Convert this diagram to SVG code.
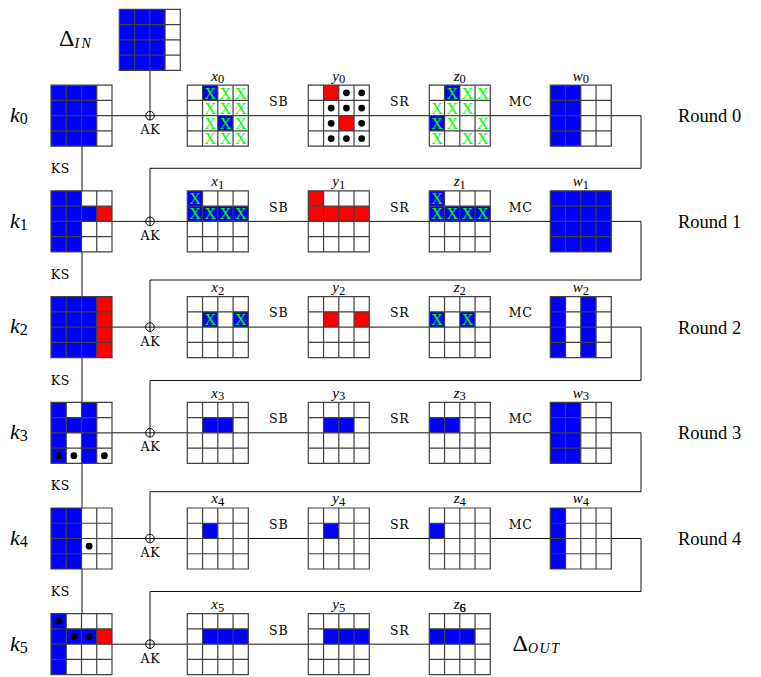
<svg xmlns="http://www.w3.org/2000/svg" width="761" height="677" viewBox="0 0 761 677">
<style>
.ln{fill:none;stroke:#111;stroke-width:1}
.gl{fill:none;stroke:#404040;stroke-width:1.2}
.bg{fill:#fff}
.b{fill:#0000ff}
.r{fill:#ff0000}
.d{fill:#000}
.xx{font-family:"Liberation Serif",serif;font-size:16px;fill:#00ff00;text-anchor:middle}
.t{font-family:"Liberation Serif",serif;fill:#000}
.op{font-family:"DejaVu Serif",serif;font-size:12.5px;text-anchor:middle;letter-spacing:0.8px;fill:#000}
.nl{font-family:"Liberation Serif",serif;font-size:15px;text-anchor:middle;fill:#000}
.it{font-style:italic}
.ox{fill:none;stroke:#000;stroke-width:1}
</style>
<defs>
<path id="gl" class="gl" d="M0,0H61V61H0Z M15.25,0V61 M30.5,0V61 M45.75,0V61 M0,15.25H61 M0,30.5H61 M0,45.75H61"/>
<rect id="bg" class="bg" width="61" height="61"/>
<rect id="B" class="b" width="15.25" height="15.25"/>
<rect id="R" class="r" width="15.25" height="15.25"/>
</defs>

<g id="connectors">
<path class="ln" d="M150,70.3V111.4"/>
<path class="ln" d="M82,146.2V613.7"/>
<path class="ln" d="M112,115.7H641V168.3H150V217.1"/>
<path class="ln" d="M112,221.4H641V280H150V322.8"/>
<path class="ln" d="M112,327.1H641V380.5H150V428.5"/>
<path class="ln" d="M112,432.8H641V491.7H150V534.2"/>
<path class="ln" d="M112,538.5H641V591.5H150V639.9"/>
<path class="ln" d="M112,644.2H429.3"/>
</g>

<g id="ops">
<g id="ak0"><circle class="ox" cx="150" cy="115.7" r="4.3"/><path class="ox" d="M150,111.4V120"/><text class="op" x="150.4" y="134.3">AK</text></g>
<g id="ak1"><circle class="ox" cx="150" cy="221.4" r="4.3"/><path class="ox" d="M150,217.1V225.7"/><text class="op" x="150.4" y="240">AK</text></g>
<g id="ak2"><circle class="ox" cx="150" cy="327.1" r="4.3"/><path class="ox" d="M150,322.8V331.4"/><text class="op" x="150.4" y="345.7">AK</text></g>
<g id="ak3"><circle class="ox" cx="150" cy="432.8" r="4.3"/><path class="ox" d="M150,428.5V437.1"/><text class="op" x="150.4" y="451.4">AK</text></g>
<g id="ak4"><circle class="ox" cx="150" cy="538.5" r="4.3"/><path class="ox" d="M150,534.2V542.8"/><text class="op" x="150.4" y="557.1">AK</text></g>
<g id="ak5"><circle class="ox" cx="150" cy="644.2" r="4.3"/><path class="ox" d="M150,639.9V648.5"/><text class="op" x="150.4" y="662.8">AK</text></g>
</g>

<g id="oplabels">
<text class="op" x="278.7" y="106">SB</text><text class="op" x="399.7" y="106">SR</text><text class="op" x="520.7" y="106">MC</text>
<text class="op" x="278.7" y="211.7">SB</text><text class="op" x="399.7" y="211.7">SR</text><text class="op" x="520.7" y="211.7">MC</text>
<text class="op" x="278.7" y="317.4">SB</text><text class="op" x="399.7" y="317.4">SR</text><text class="op" x="520.7" y="317.4">MC</text>
<text class="op" x="278.7" y="423.1">SB</text><text class="op" x="399.7" y="423.1">SR</text><text class="op" x="520.7" y="423.1">MC</text>
<text class="op" x="278.7" y="528.8">SB</text><text class="op" x="399.7" y="528.8">SR</text><text class="op" x="520.7" y="528.8">MC</text>
<text class="op" x="278.7" y="634.5">SB</text><text class="op" x="399.7" y="634.5">SR</text>
<text class="op" x="60.4" y="173.3">KS</text>
<text class="op" x="60.4" y="279">KS</text>
<text class="op" x="60.4" y="384.7">KS</text>
<text class="op" x="60.4" y="490.4">KS</text>
<text class="op" x="60.4" y="596.1">KS</text>
<text class="t" x="678" y="122.3" font-size="18.5">Round 0</text>
<text class="t" x="678" y="228" font-size="18.5">Round 1</text>
<text class="t" x="678" y="333.7" font-size="18.5">Round 2</text>
<text class="t" x="678" y="439.4" font-size="18.5">Round 3</text>
<text class="t" x="678" y="545.1" font-size="18.5">Round 4</text>
</g>

<!-- Delta IN -->
<g id="din">
<text class="t" x="59" y="46" font-size="24">Δ<tspan class="it" font-size="14" dy="1.6" letter-spacing="2.5">IN</tspan></text>
<g transform="translate(119.3,9.3)"><use href="#bg"/><rect class="b" width="45.75" height="61"/><use href="#gl"/></g>
</g>

<!-- Row 0 -->
<g id="k0">
<text class="t it" x="10" y="122" font-size="22">k<tspan font-style="normal" font-size="16" dy="2">0</tspan></text>
<g transform="translate(51,85.2)"><use href="#bg"/><rect class="b" width="45.75" height="61"/><use href="#gl"/></g>
</g>
<g id="x0">
<text class="nl" x="217.8" y="80.5"><tspan class="it">x</tspan><tspan font-size="12.5" dy="2.8">0</tspan></text>
<g transform="translate(187.3,85.2)"><use href="#bg"/>
<use href="#B" x="15.25" y="0"/><use href="#B" x="30.5" y="30.5"/>
<text class="xx" x="22.875" y="13.3">X</text><text class="xx" x="38.125" y="13.3">X</text><text class="xx" x="53.375" y="13.3">X</text>
<text class="xx" x="22.875" y="28.55">X</text><text class="xx" x="38.125" y="28.55">X</text><text class="xx" x="53.375" y="28.55">X</text>
<text class="xx" x="22.875" y="43.8">X</text><text class="xx" x="38.125" y="43.8">X</text><text class="xx" x="53.375" y="43.8">X</text>
<text class="xx" x="22.875" y="59.05">X</text><text class="xx" x="38.125" y="59.05">X</text><text class="xx" x="53.375" y="59.05">X</text>
<use href="#gl"/></g>
</g>
<g id="y0">
<text class="nl" x="338.8" y="80.5"><tspan class="it">y</tspan><tspan font-size="12.5" dy="2.8">0</tspan></text>
<g transform="translate(308.3,85.2)"><use href="#bg"/>
<use href="#R" x="15.25" y="0"/><use href="#R" x="30.5" y="30.5"/>
<circle class="d" cx="38.125" cy="7.625" r="3.4"/><circle class="d" cx="53.375" cy="7.625" r="3.4"/>
<circle class="d" cx="22.875" cy="22.875" r="3.4"/><circle class="d" cx="38.125" cy="22.875" r="3.4"/><circle class="d" cx="53.375" cy="22.875" r="3.4"/>
<circle class="d" cx="22.875" cy="38.125" r="3.4"/><circle class="d" cx="53.375" cy="38.125" r="3.4"/>
<circle class="d" cx="22.875" cy="53.375" r="3.4"/><circle class="d" cx="38.125" cy="53.375" r="3.4"/><circle class="d" cx="53.375" cy="53.375" r="3.4"/>
<use href="#gl"/></g>
</g>
<g id="z0">
<text class="nl" x="459.8" y="80.5"><tspan class="it">z</tspan><tspan font-size="12.5" dy="2.8">0</tspan></text>
<g transform="translate(429.3,85.2)"><use href="#bg"/>
<use href="#B" x="15.25" y="0"/><use href="#B" x="0" y="30.5"/>
<text class="xx" x="22.875" y="13.3">X</text><text class="xx" x="38.125" y="13.3">X</text><text class="xx" x="53.375" y="13.3">X</text>
<text class="xx" x="7.625" y="28.55">X</text><text class="xx" x="22.875" y="28.55">X</text><text class="xx" x="38.125" y="28.55">X</text>
<text class="xx" x="7.625" y="43.8">X</text><text class="xx" x="22.875" y="43.8">X</text><text class="xx" x="53.375" y="43.8">X</text>
<text class="xx" x="7.625" y="59.05">X</text><text class="xx" x="38.125" y="59.05">X</text><text class="xx" x="53.375" y="59.05">X</text>
<use href="#gl"/></g>
</g>
<g id="w0">
<text class="nl" x="580.8" y="80.5"><tspan class="it">w</tspan><tspan font-size="12.5" dy="2.8">0</tspan></text>
<g transform="translate(550.3,85.2)"><use href="#bg"/><rect class="b" width="30.5" height="61"/><use href="#gl"/></g>
</g>

<!-- Row 1 -->
<g id="k1">
<text class="t it" x="10" y="227.7" font-size="22">k<tspan font-style="normal" font-size="16" dy="2">1</tspan></text>
<g transform="translate(51,190.9)"><use href="#bg"/><rect class="b" width="30.5" height="61"/><use href="#B" x="30.5" y="15.25"/><use href="#R" x="45.75" y="15.25"/><use href="#gl"/></g>
</g>
<g id="x1">
<text class="nl" x="217.8" y="186.2"><tspan class="it">x</tspan><tspan font-size="12.5" dy="2.8">1</tspan></text>
<g transform="translate(187.3,190.9)"><use href="#bg"/>
<use href="#B" x="0" y="0"/><rect class="b" x="0" y="15.25" width="61" height="15.25"/>
<text class="xx" x="7.625" y="13.3">X</text>
<text class="xx" x="7.625" y="28.55">X</text><text class="xx" x="22.875" y="28.55">X</text><text class="xx" x="38.125" y="28.55">X</text><text class="xx" x="53.375" y="28.55">X</text>
<use href="#gl"/></g>
</g>
<g id="y1">
<text class="nl" x="338.8" y="186.2"><tspan class="it">y</tspan><tspan font-size="12.5" dy="2.8">1</tspan></text>
<g transform="translate(308.3,190.9)"><use href="#bg"/>
<use href="#R" x="0" y="0"/><rect class="r" x="0" y="15.25" width="61" height="15.25"/>
<use href="#gl"/></g>
</g>
<g id="z1">
<text class="nl" x="459.8" y="186.2"><tspan class="it">z</tspan><tspan font-size="12.5" dy="2.8">1</tspan></text>
<g transform="translate(429.3,190.9)"><use href="#bg"/>
<use href="#B" x="0" y="0"/><rect class="b" x="0" y="15.25" width="61" height="15.25"/>
<text class="xx" x="7.625" y="13.3">X</text>
<text class="xx" x="7.625" y="28.55">X</text><text class="xx" x="22.875" y="28.55">X</text><text class="xx" x="38.125" y="28.55">X</text><text class="xx" x="53.375" y="28.55">X</text>
<use href="#gl"/></g>
</g>
<g id="w1">
<text class="nl" x="580.8" y="186.2"><tspan class="it">w</tspan><tspan font-size="12.5" dy="2.8">1</tspan></text>
<g transform="translate(550.3,190.9)"><use href="#bg"/><rect class="b" width="61" height="61"/><use href="#gl"/></g>
</g>

<!-- Row 2 -->
<g id="k2">
<text class="t it" x="10" y="333.4" font-size="22">k<tspan font-style="normal" font-size="16" dy="2">2</tspan></text>
<g transform="translate(51,296.6)"><use href="#bg"/><rect class="b" width="45.75" height="61"/><rect class="r" x="45.75" width="15.25" height="61"/><use href="#gl"/></g>
</g>
<g id="x2">
<text class="nl" x="217.8" y="291.9"><tspan class="it">x</tspan><tspan font-size="12.5" dy="2.8">2</tspan></text>
<g transform="translate(187.3,296.6)"><use href="#bg"/>
<use href="#B" x="15.25" y="15.25"/><use href="#B" x="45.75" y="15.25"/>
<text class="xx" x="22.875" y="28.55">X</text><text class="xx" x="53.375" y="28.55">X</text>
<use href="#gl"/></g>
</g>
<g id="y2">
<text class="nl" x="338.8" y="291.9"><tspan class="it">y</tspan><tspan font-size="12.5" dy="2.8">2</tspan></text>
<g transform="translate(308.3,296.6)"><use href="#bg"/>
<use href="#R" x="15.25" y="15.25"/><use href="#R" x="45.75" y="15.25"/>
<use href="#gl"/></g>
</g>
<g id="z2">
<text class="nl" x="459.8" y="291.9"><tspan class="it">z</tspan><tspan font-size="12.5" dy="2.8">2</tspan></text>
<g transform="translate(429.3,296.6)"><use href="#bg"/>
<use href="#B" x="0" y="15.25"/><use href="#B" x="30.5" y="15.25"/>
<text class="xx" x="7.625" y="28.55">X</text><text class="xx" x="38.125" y="28.55">X</text>
<use href="#gl"/></g>
</g>
<g id="w2">
<text class="nl" x="580.8" y="291.9"><tspan class="it">w</tspan><tspan font-size="12.5" dy="2.8">2</tspan></text>
<g transform="translate(550.3,296.6)"><use href="#bg"/><rect class="b" width="15.25" height="61"/><rect class="b" x="30.5" width="15.25" height="61"/><use href="#gl"/></g>
</g>

<!-- Row 3 -->
<g id="k3">
<text class="t it" x="10" y="439.1" font-size="22">k<tspan font-style="normal" font-size="16" dy="2">3</tspan></text>
<g transform="translate(51,402.3)"><use href="#bg"/><rect class="b" width="15.25" height="61"/><rect class="b" x="30.5" width="15.25" height="61"/><use href="#B" x="15.25" y="15.25"/>
<circle class="d" cx="7.625" cy="53.375" r="3.4"/><circle class="d" cx="22.875" cy="53.375" r="3.4"/><circle class="d" cx="53.375" cy="53.375" r="3.4"/>
<use href="#gl"/></g>
</g>
<g id="x3">
<text class="nl" x="217.8" y="397.6"><tspan class="it">x</tspan><tspan font-size="12.5" dy="2.8">3</tspan></text>
<g transform="translate(187.3,402.3)"><use href="#bg"/><rect class="b" x="15.25" y="15.25" width="30.5" height="15.25"/><use href="#gl"/></g>
</g>
<g id="y3">
<text class="nl" x="338.8" y="397.6"><tspan class="it">y</tspan><tspan font-size="12.5" dy="2.8">3</tspan></text>
<g transform="translate(308.3,402.3)"><use href="#bg"/><rect class="b" x="15.25" y="15.25" width="30.5" height="15.25"/><use href="#gl"/></g>
</g>
<g id="z3">
<text class="nl" x="459.8" y="397.6"><tspan class="it">z</tspan><tspan font-size="12.5" dy="2.8">3</tspan></text>
<g transform="translate(429.3,402.3)"><use href="#bg"/><rect class="b" x="0" y="15.25" width="30.5" height="15.25"/><use href="#gl"/></g>
</g>
<g id="w3">
<text class="nl" x="580.8" y="397.6"><tspan class="it">w</tspan><tspan font-size="12.5" dy="2.8">3</tspan></text>
<g transform="translate(550.3,402.3)"><use href="#bg"/><rect class="b" width="30.5" height="61"/><use href="#gl"/></g>
</g>

<!-- Row 4 -->
<g id="k4">
<text class="t it" x="10" y="544.8" font-size="22">k<tspan font-style="normal" font-size="16" dy="2">4</tspan></text>
<g transform="translate(51,508)"><use href="#bg"/><rect class="b" width="30.5" height="61"/><circle class="d" cx="38.125" cy="38.125" r="3.4"/><use href="#gl"/></g>
</g>
<g id="x4">
<text class="nl" x="217.8" y="503.3"><tspan class="it">x</tspan><tspan font-size="12.5" dy="2.8">4</tspan></text>
<g transform="translate(187.3,508)"><use href="#bg"/><use href="#B" x="15.25" y="15.25"/><use href="#gl"/></g>
</g>
<g id="y4">
<text class="nl" x="338.8" y="503.3"><tspan class="it">y</tspan><tspan font-size="12.5" dy="2.8">4</tspan></text>
<g transform="translate(308.3,508)"><use href="#bg"/><use href="#B" x="15.25" y="15.25"/><use href="#gl"/></g>
</g>
<g id="z4">
<text class="nl" x="459.8" y="503.3"><tspan class="it">z</tspan><tspan font-size="12.5" dy="2.8">4</tspan></text>
<g transform="translate(429.3,508)"><use href="#bg"/><use href="#B" x="0" y="15.25"/><use href="#gl"/></g>
</g>
<g id="w4">
<text class="nl" x="580.8" y="503.3"><tspan class="it">w</tspan><tspan font-size="12.5" dy="2.8">4</tspan></text>
<g transform="translate(550.3,508)"><use href="#bg"/><rect class="b" width="15.25" height="61"/><use href="#gl"/></g>
</g>

<!-- Row 5 -->
<g id="k5">
<text class="t it" x="10" y="650.5" font-size="22">k<tspan font-style="normal" font-size="16" dy="2">5</tspan></text>
<g transform="translate(51,613.7)"><use href="#bg"/><rect class="b" width="15.25" height="61"/><rect class="b" x="15.25" y="15.25" width="30.5" height="15.25"/><use href="#R" x="45.75" y="15.25"/>
<circle class="d" cx="7.625" cy="7.625" r="3.4"/><circle class="d" cx="22.875" cy="22.875" r="3.4"/><circle class="d" cx="38.125" cy="22.875" r="3.4"/>
<use href="#gl"/></g>
</g>
<g id="x5">
<text class="nl" x="217.8" y="609"><tspan class="it">x</tspan><tspan font-size="12.5" dy="2.8">5</tspan></text>
<g transform="translate(187.3,613.7)"><use href="#bg"/><rect class="b" x="15.25" y="15.25" width="45.75" height="15.25"/><use href="#gl"/></g>
</g>
<g id="y5">
<text class="nl" x="338.8" y="609"><tspan class="it">y</tspan><tspan font-size="12.5" dy="2.8">5</tspan></text>
<g transform="translate(308.3,613.7)"><use href="#bg"/><rect class="b" x="15.25" y="15.25" width="45.75" height="15.25"/><use href="#gl"/></g>
</g>
<g id="z5">
<text class="nl" x="459.8" y="609"><tspan class="it">z</tspan><tspan font-size="12.5" dy="2.8" stroke="#000" stroke-width="0.4">6</tspan></text>
<g transform="translate(429.3,613.7)"><use href="#bg"/><rect class="b" x="0" y="15.25" width="45.75" height="15.25"/><use href="#gl"/></g>
</g>
<g id="dout">
<text class="t" x="512.5" y="651" font-size="24">Δ<tspan class="it" font-size="14" dy="1.6" letter-spacing="1.5">OUT</tspan></text>
</g>
</svg>
